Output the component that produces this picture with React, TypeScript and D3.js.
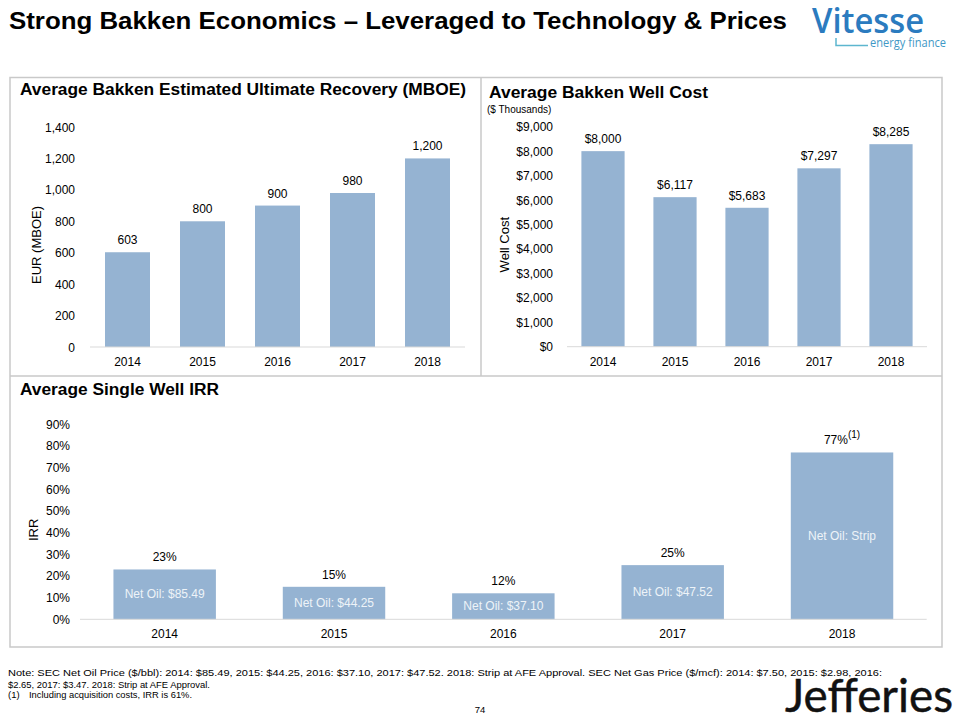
import React from "react";
import * as d3 from "d3";

const years = ["2014", "2015", "2016", "2017", "2018"];
const eurValues = [603, 800, 900, 980, 1200];
const eurTicks = [0, 200, 400, 600, 800, 1000, 1200, 1400];
const costValues = [8000, 6117, 5683, 7297, 8285];
const costTicks = [0, 1000, 2000, 3000, 4000, 5000, 6000, 7000, 8000, 9000];
const irrValues = [0.23, 0.15, 0.12, 0.25, 0.77];
const irrTicks = [0, 0.1, 0.2, 0.3, 0.4, 0.5, 0.6, 0.7, 0.8, 0.9];
const irrInner = ["Net Oil: $85.49", "Net Oil: $44.25", "Net Oil: $37.10", "Net Oil: $47.52", "Net Oil: Strip"];

const FONT = "'Liberation Sans', Arial, sans-serif";
const BAR = "#95b3d2";
const AXIS = "#d9d9d9";
const BORDER = "#c9c9c9";

function BarPanel(props: {
  values: number[];
  ticks: number[];
  x0: number; x1: number; yTop: number; yBottom: number;
  maxV: number; tickX: number; fmtTick: (v: number) => string; fmtVal: (v: number) => string;
  yTitle: string; yTitleX: number; labelY: number; padding: number;
  inner?: string[]; supIndex?: number;
}) {
  const x = d3.scaleBand<string>().domain(years).range([props.x0, props.x1]).paddingInner(props.padding).paddingOuter(props.padding / 2);
  const y = d3.scaleLinear().domain([0, props.maxV]).range([props.yBottom, props.yTop]);
  const midY = (props.yTop + props.yBottom) / 2;
  return (
    <g fontFamily={FONT}>
      {props.ticks.map((t) => (
        <text key={t} x={props.tickX} y={y(t) + 4.5} fontSize={12} textAnchor="end" fill="#000">
          {props.fmtTick(t)}
        </text>
      ))}
      <text transform={`translate(${props.yTitleX},${midY + 8}) rotate(-90)`} fontSize={13} textAnchor="middle" fill="#000">
        {props.yTitle}
      </text>
      {years.map((yr, i) => {
        const v = props.values[i];
        const bx = x(yr)!;
        const bw = x.bandwidth();
        const top = y(v);
        return (
          <g key={yr}>
            <rect x={bx} y={top} width={bw} height={y(0) - top} fill={BAR} />
            <text x={bx + bw / 2} y={top - 8} fontSize={12} textAnchor="middle" fill="#000">
              {props.fmtVal(v)}
              {props.supIndex === i ? (
                <tspan fontSize={10} dy={-6}>(1)</tspan>
              ) : null}
            </text>
            {props.inner ? (
              <text x={bx + bw / 2} y={(top + y(0)) / 2 + 4} fontSize={12} textAnchor="middle" fill="#eef3f8">
                {props.inner[i]}
              </text>
            ) : null}
            <text x={bx + bw / 2} y={props.labelY} fontSize={12} textAnchor="middle" fill="#000">
              {yr}
            </text>
          </g>
        );
      })}
      <line x1={props.x0} x2={props.x1} y1={y(0)} y2={y(0)} stroke={AXIS} strokeWidth={1} />
    </g>
  );
}

export default function App() {
  const fmtComma = d3.format(",");
  const fmtDollar = (v: number) => "$" + d3.format(",")(v);
  const fmtPct = (v: number) => d3.format(".0%")(v);
  return (
    <svg width={960} height={720} style={{ position: "absolute", left: 0, top: 0, background: "#fff" }} fontFamily={FONT}>
      <rect x={0} y={0} width={960} height={720} fill="#fff" />
      {/* Title */}
      <text x={9} y={29} fontSize={24} fontWeight="bold" fill="#000" textLength={778} lengthAdjust="spacingAndGlyphs">
        Strong Bakken Economics – Leveraged to Technology &amp; Prices
      </text>
      {/* Vitesse logo */}
      <text x={812} y={33} fontSize={34} fontFamily="'Open Sans', sans-serif" fontWeight={600} fill="#2b7bbf" textLength={112} lengthAdjust="spacingAndGlyphs">
        Vitesse
      </text>
      <path d="M836,38 V45.5 H868" fill="none" stroke="#5db6cf" strokeWidth={1.5} />
      <text x={870} y={47} fontSize={12.5} fontFamily="'Open Sans', sans-serif" fill="#3f98c6" textLength={76} lengthAdjust="spacingAndGlyphs">
        energy finance
      </text>

      {/* Panel borders */}
      <rect x={10} y={77.5} width={932} height={569.5} fill="none" stroke={BORDER} strokeWidth={1.5} />
      <line x1={481} x2={481} y1={77.5} y2={376} stroke={BORDER} strokeWidth={1.5} />
      <line x1={10} x2={942} y1={376} y2={376} stroke={BORDER} strokeWidth={1.5} />

      {/* Panel titles */}
      <text x={20} y={95} fontSize={16} fontWeight="bold" fill="#000" textLength={446} lengthAdjust="spacingAndGlyphs">
        Average Bakken Estimated Ultimate Recovery (MBOE)
      </text>
      <text x={489} y={98} fontSize={16} fontWeight="bold" fill="#000" textLength={219} lengthAdjust="spacingAndGlyphs">
        Average Bakken Well Cost
      </text>
      <text x={487} y={113} fontSize={10} fill="#000">($ Thousands)</text>
      <text x={20} y={394.5} fontSize={16} fontWeight="bold" fill="#000" textLength={199} lengthAdjust="spacingAndGlyphs">
        Average Single Well IRR
      </text>

      <BarPanel values={eurValues} ticks={eurTicks} x0={90} x1={465} yTop={127} yBottom={347} maxV={1400}
        tickX={75} fmtTick={fmtComma} fmtVal={fmtComma} yTitle="EUR (MBOE)" yTitleX={41} labelY={366} padding={0.4} />
      <BarPanel values={costValues} ticks={costTicks} x0={567} x1={927} yTop={126.7} yBottom={346.7} maxV={9000}
        tickX={553} fmtTick={fmtDollar} fmtVal={fmtDollar} yTitle="Well Cost" yTitleX={509} labelY={366} padding={0.4} />
      <BarPanel values={irrValues} ticks={irrTicks} x0={80} x1={926.7} yTop={424.3} yBottom={619.3} maxV={0.9}
        tickX={70} fmtTick={fmtPct} fmtVal={fmtPct} yTitle="IRR" yTitleX={38} labelY={637.5} padding={0.395}
        inner={irrInner} supIndex={4} />

      {/* Footer */}
      <g fontSize={9.5} fill="#000">
        <text x={8} y={676} textLength={874} lengthAdjust="spacingAndGlyphs">
          Note: SEC Net Oil Price ($/bbl): 2014: $85.49, 2015: $44.25, 2016: $37.10, 2017: $47.52. 2018: Strip at AFE Approval. SEC Net Gas Price ($/mcf): 2014: $7.50, 2015: $2.98, 2016:
        </text>
        <text x={8} y={687.5} textLength={202} lengthAdjust="spacingAndGlyphs">
          $2.65, 2017: $3.47. 2018: Strip at AFE Approval.
        </text>
        <text x={8} y={698}>(1)</text>
        <text x={29} y={698} textLength={163} lengthAdjust="spacingAndGlyphs">
          Including acquisition costs, IRR is 61%.
        </text>
        <text x={480} y={713} textAnchor="middle">74</text>
      </g>
      <text x={785} y={712} fontSize={47} fontFamily="Lato, 'Open Sans', sans-serif" fill="#111" stroke="#111" strokeWidth={0.5} textLength={168} lengthAdjust="spacingAndGlyphs">
        Jefferies
      </text>
    </svg>
  );
}
